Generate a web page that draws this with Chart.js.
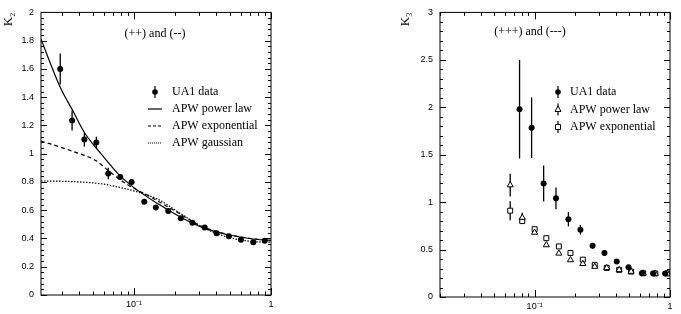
<!DOCTYPE html>
<html lang="en">
<head>
<meta charset="UTF-8">
<title>K2 and K3 versus bin size</title>
<style>
    body { margin: 0; background: #fff; }
    .wrap { position: relative; width: 681px; height: 314px; }
    canvas { position: absolute; top: 0; }
    #left { left: 0; }
    #right { left: 340px; }
</style>
</head>
<body>
<div class="wrap">
    <canvas id="left" width="340" height="314"></canvas>
    <canvas id="right" width="341" height="314"></canvas>
</div>
<script src="https://cdn.jsdelivr.net/npm/chart.js"></script>
<script>
// ---- left panel: K2, (++) and (--) ----
const k2X   = [0.029, 0.0354, 0.0435, 0.0532, 0.065, 0.0795, 0.0962, 0.119, 0.1445, 0.178, 0.22, 0.267, 0.328, 0.401, 0.493, 0.603, 0.743, 0.90];
const k2Y   = [1.60, 1.235, 1.10, 1.08, 0.86, 0.835, 0.80, 0.66, 0.62, 0.595, 0.543, 0.512, 0.477, 0.437, 0.416, 0.391, 0.374, 0.384];
const k2Err = [0.11, 0.07, 0.05, 0.04, 0.04, 0.02, 0.02, 0.015, 0.015, 0.015, 0.01, 0.01, 0.01, 0.01, 0.01, 0.01, 0.01, 0.01];

const powX = [0.021, 0.029, 0.036, 0.0435, 0.0575, 0.068, 0.079, 0.1, 0.15, 0.22, 0.32, 0.48, 0.71, 1.0];
const powY = [1.81, 1.47, 1.30, 1.15, 1.00, 0.915, 0.845, 0.76, 0.645, 0.55, 0.475, 0.428, 0.398, 0.386];
const expX = [0.021, 0.035, 0.053, 0.068, 0.09, 0.1, 0.126, 0.195, 0.307, 0.48, 0.71, 1.0];
const expY = [1.09, 1.02, 0.95, 0.865, 0.78, 0.755, 0.705, 0.60, 0.49, 0.43, 0.40, 0.385];
const gauX = [0.021, 0.03, 0.045, 0.06, 0.068, 0.08, 0.1, 0.149, 0.22, 0.324, 0.48, 0.71, 1.0];
const gauY = [0.807, 0.805, 0.797, 0.785, 0.775, 0.76, 0.737, 0.678, 0.575, 0.475, 0.41, 0.38, 0.374];

// ---- right panel: K3, (+++) and (---) ----
const k3X   = [0.0774, 0.095, 0.1166, 0.1438, 0.1776, 0.218, 0.268, 0.328, 0.404, 0.494, 0.62, 0.75, 0.92];
const k3Y   = [1.98, 1.785, 1.197, 1.04, 0.82, 0.708, 0.54, 0.464, 0.373, 0.314, 0.251, 0.248, 0.248];
const k3Err = [0.52, 0.32, 0.19, 0.115, 0.075, 0.05, 0.03, 0.02, 0.015, 0.01, 0.01, 0.01, 0.01];

const apwX      = [0.066, 0.081, 0.1, 0.122, 0.151, 0.184, 0.227, 0.278, 0.341, 0.421, 0.516, 0.634, 0.778, 0.955];
const apwPowY   = [1.18, 0.837, 0.68, 0.548, 0.46, 0.39, 0.35, 0.32, 0.307, 0.286, 0.268, 0.25, 0.248, 0.248];
const apwPowErr = [0.12, 0.05, 0, 0, 0, 0, 0, 0, 0, 0, 0, 0, 0, 0];
const apwExpY   = [0.91, 0.80, 0.715, 0.62, 0.533, 0.464, 0.394, 0.339, 0.307, 0.286, 0.268, 0.25, 0.248, 0.248];
const apwExpErr = [0.10, 0, 0, 0, 0, 0, 0, 0, 0, 0, 0, 0, 0, 0];

// only these x ticks carry a label
const xLabelTicks = [0.1, 1];
const xLabelText  = ['10\u207B\u00B9', '1'];

const serif = '"Liberation Serif", "DejaVu Serif", serif';
const sans = '"Liberation Sans", Arial, sans-serif';
const pts = (xs, ys) => xs.map((x, i) => ({x: x, y: ys[i]}));

// vertical error bars, under the markers
const errorBars = {
    id: 'errorBars',
    beforeDatasetsDraw(chart) {
        const ctx = chart.ctx;
        const yS = chart.scales.y;
        ctx.save();
        ctx.strokeStyle = '#000';
        ctx.lineWidth = 1.3;
        chart.data.datasets.forEach((ds, i) => {
            if (!ds.errors) return;
            const meta = chart.getDatasetMeta(i);
            ds.data.forEach((p, j) => {
                const e = ds.errors[j];
                if (!e) return;
                const px = meta.data[j].x;
                ctx.beginPath();
                ctx.moveTo(px, yS.getPixelForValue(p.y + e));
                ctx.lineTo(px, yS.getPixelForValue(p.y - e));
                ctx.stroke();
            });
        });
        ctx.restore();
    }
};

function marker(ctx, kind, x, y) {
    ctx.beginPath();
    if (kind === 'dot') {
        ctx.arc(x, y, 2.8, 0, Math.PI * 2);
        ctx.fill();
        return;
    }
    if (kind === 'tri') {
        ctx.moveTo(x, y - 3.5);
        ctx.lineTo(x + 3, y + 2);
        ctx.lineTo(x - 3, y + 2);
        ctx.closePath();
    } else {
        ctx.rect(x - 2.5, y - 2.5, 5, 5);
    }
    ctx.fillStyle = '#fff';
    ctx.fill();
    ctx.stroke();
    ctx.fillStyle = '#000';
}

// box frame with inward ticks, caption and legend
const frame = {
    id: 'panel',
    afterDraw(chart, args, o) {
        const ctx = chart.ctx;
        const a = chart.chartArea;
        const xS = chart.scales.x, yS = chart.scales.y;
        ctx.save();
        ctx.strokeStyle = '#000';
        ctx.fillStyle = '#000';
        ctx.lineWidth = 1;
        ctx.strokeRect(a.left, a.top, a.right - a.left, a.bottom - a.top);

        // y ticks, both sides
        const n = Math.round(yS.max / o.yMinor);
        for (let i = 0; i <= n; i++) {
            const py = Math.round(yS.getPixelForValue(i * o.yMinor)) + 0.5;
            const len = i % o.yEvery === 0 ? 6 : 3;
            ctx.beginPath();
            ctx.moveTo(a.left, py); ctx.lineTo(a.left + len, py);
            ctx.moveTo(a.right, py); ctx.lineTo(a.right - len, py);
            ctx.stroke();
        }
        // log x ticks, top and bottom
        for (let e = -2; e <= 0; e++) {
            for (let k = 1; k <= 9; k++) {
                const v = k * Math.pow(10, e);
                if (v < xS.min || v > xS.max * 1.0001) continue;
                const px = Math.round(xS.getPixelForValue(v)) + 0.5;
                const len = k === 1 ? 7 : 3.5;
                ctx.beginPath();
                ctx.moveTo(px, a.bottom); ctx.lineTo(px, a.bottom - len);
                ctx.moveTo(px, a.top); ctx.lineTo(px, a.top + len);
                ctx.stroke();
            }
        }

        ctx.font = '12px ' + serif;
        ctx.textBaseline = 'middle';
        ctx.textAlign = 'center';
        ctx.fillText(o.title, o.titleX, o.titleY);

        ctx.textAlign = 'left';
        o.legend.forEach((it, i) => {
            const y = o.legY + i * o.legStep;
            const sx = o.legX;
            if (it.kind === 'line') {
                ctx.lineWidth = 1.2;
                ctx.setLineDash(it.dash);
                ctx.beginPath();
                ctx.moveTo(sx - 7, y); ctx.lineTo(sx + 7, y);
                ctx.stroke();
                ctx.setLineDash([]);
            } else {
                ctx.lineWidth = 1.2;
                ctx.beginPath();
                ctx.moveTo(sx, y - 6); ctx.lineTo(sx, y + 6);
                ctx.stroke();
                ctx.lineWidth = 1;
                marker(ctx, it.kind, sx, y);
            }
            ctx.fillText(it.label, o.textX, y);
        });
        ctx.restore();
    }
};

function panel(id, c) {
    return new Chart(document.getElementById(id), {
        type: 'scatter',
        data: { datasets: c.datasets },
        options: {
            responsive: false,
            animation: false,
            devicePixelRatio: 1,
            layout: { padding: c.padding },
            plugins: { legend: { display: false }, tooltip: { enabled: false }, panel: c.panel },
            scales: {
                x: {
                    type: 'logarithmic',
                    min: c.xMin,
                    max: 1,
                    grid: { display: false, drawTicks: false },
                    border: { display: false },
                    afterFit: s => { s.height = c.xAxisH; },
                    afterBuildTicks: s => { s.ticks = xLabelTicks.map(v => ({ value: v })); },
                    ticks: {
                        autoSkip: false, maxRotation: 0, padding: 4, color: '#000',
                        font: { family: sans, size: 9 },
                        callback: v => {
                            const i = xLabelTicks.findIndex(t => Math.abs(t - v) < 1e-9);
                            return i < 0 ? '' : xLabelText[i];
                        }
                    }
                },
                y: {
                    min: 0,
                    max: c.yMax,
                    grid: { display: false, drawTicks: false },
                    border: { display: false },
                    afterFit: s => { s.width = c.yAxisW; },
                    ticks: {
                        stepSize: c.yStep, padding: 7, color: '#000', font: { family: sans, size: 9 },
                        callback: v => String(+v.toFixed(2))
                    },
                    title: {
                        display: true, text: c.yTitle, align: 'end', color: '#000',
                        font: { family: serif, size: 13 }, padding: { top: 1, bottom: 1 }
                    }
                }
            }
        },
        plugins: [errorBars, frame]
    });
}

const dataStyle = { showLine: false, pointStyle: 'circle', pointRadius: 3, backgroundColor: '#000', borderColor: '#000', borderWidth: 0 };
const curveStyle = { showLine: true, pointRadius: 0, borderColor: '#000', borderWidth: 1.2, cubicInterpolationMode: 'monotone', fill: false };
const openStyle = { showLine: false, pointRadius: 3.5, backgroundColor: '#fff', borderColor: '#000', borderWidth: 1 };

panel('left', {
    xMin: 0.021, yMax: 2, yStep: 0.2, yTitle: 'K\u2082',
    padding: { left: 0, top: 10, right: 69, bottom: 0 },
    yAxisW: 41, xAxisH: 19,
    datasets: [
        Object.assign({ label: 'UA1 data', data: pts(k2X, k2Y), errors: k2Err, order: 0 }, dataStyle),
        Object.assign({ label: 'APW power law', data: pts(powX, powY), order: 1 }, curveStyle),
        Object.assign({ label: 'APW exponential', data: pts(expX, expY), borderDash: [4, 3], order: 2 }, curveStyle),
        Object.assign({ label: 'APW gaussian', data: pts(gauX, gauY), borderDash: [1.5, 1.5], order: 3 }, curveStyle)
    ],
    panel: {
        yMinor: 0.04, yEvery: 5,
        title: '(++) and (--)', titleX: 155, titleY: 34,
        legX: 155, textX: 172, legY: 92, legStep: 17,
        legend: [
            { label: 'UA1 data', kind: 'dot' },
            { label: 'APW power law', kind: 'line', dash: [] },
            { label: 'APW exponential', kind: 'line', dash: [3, 2] },
            { label: 'APW gaussian', kind: 'line', dash: [1, 1] }
        ]
    }
});

panel('right', {
    xMin: 0.02, yMax: 3, yStep: 0.5, yTitle: 'K\u2083',
    padding: { left: 57, top: 10, right: 11, bottom: 0 },
    yAxisW: 43, xAxisH: 17,
    datasets: [
        Object.assign({ label: 'UA1 data', data: pts(k3X, k3Y), errors: k3Err, order: 0 }, dataStyle),
        Object.assign({ label: 'APW power law', data: pts(apwX, apwPowY), errors: apwPowErr, pointStyle: 'triangle', order: 1 }, openStyle),
        Object.assign({ label: 'APW exponential', data: pts(apwX, apwExpY), errors: apwExpErr, pointStyle: 'rect', order: 2 }, openStyle)
    ],
    panel: {
        yMinor: 0.1, yEvery: 5,
        title: '(+++) and (---)', titleX: 190, titleY: 32,
        legX: 218, textX: 230, legY: 92, legStep: 17.5,
        legend: [
            { label: 'UA1 data', kind: 'dot' },
            { label: 'APW power law', kind: 'tri' },
            { label: 'APW exponential', kind: 'sq' }
        ]
    }
});
</script>
</body>
</html>
